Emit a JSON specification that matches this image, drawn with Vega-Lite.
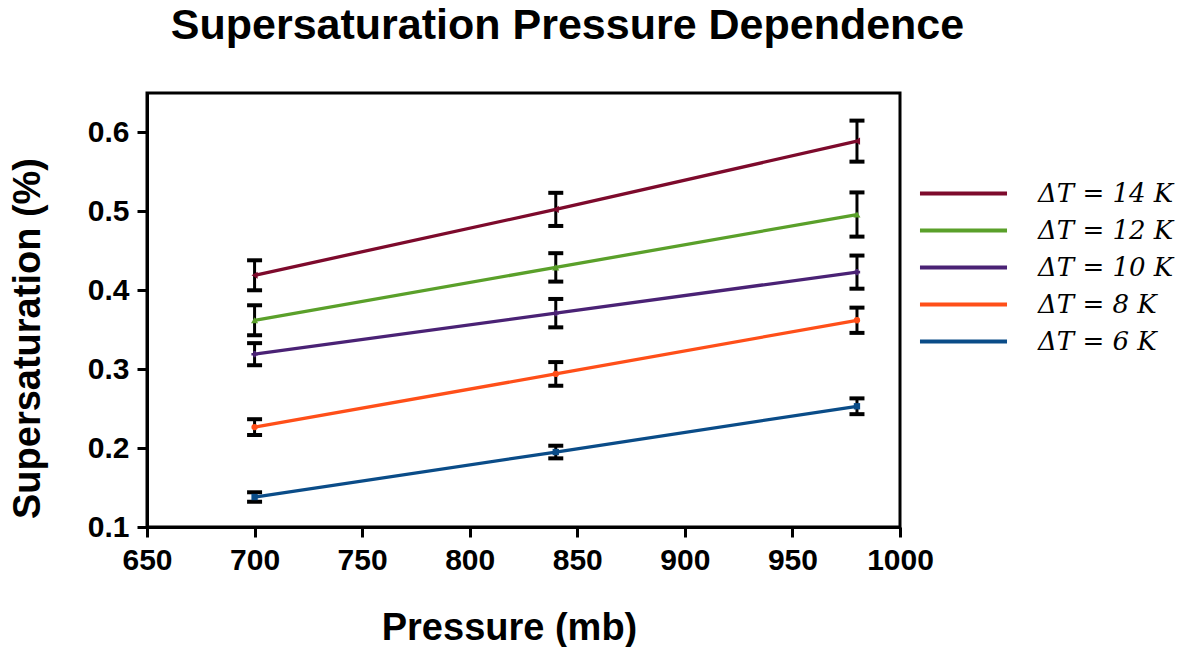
{
  "$schema": "https://vega.github.io/schema/vega-lite/v6.json",
  "autosize": {"type": "none"},
  "padding": {"left": 147, "top": 93, "right": 285, "bottom": 120},
  "width": 753,
  "height": 434,
  "background": "white",
  "title": {
    "text": "Supersaturation Pressure Dependence",
    "font": "Liberation Sans",
    "fontSize": 43,
    "fontWeight": "bold",
    "color": "black",
    "anchor": "middle",
    "frame": "group",
    "dx": 44,
    "offset": 45
  },
  "config": {
    "view": {"stroke": "black", "strokeWidth": 3},
    "axis": {
      "domainColor": "black",
      "domainWidth": 3,
      "tickColor": "black",
      "tickWidth": 3,
      "tickSize": 10,
      "grid": false,
      "labelFlush": false,
      "labelFont": "Liberation Sans",
      "labelFontWeight": "bold",
      "labelFontSize": 30,
      "labelColor": "black",
      "titleFont": "Liberation Sans",
      "titleFontWeight": "bold",
      "titleFontSize": 38,
      "titleColor": "black"
    },
    "legend": {
      "labelFont": "DejaVu Serif",
      "labelFontStyle": "italic",
      "labelFontSize": 26,
      "labelColor": "black",
      "symbolType": "M-4.5,0H4.5",
      "symbolSize": 374,
      "symbolStrokeWidth": 4,
      "labelOffset": 61.5,
      "rowPadding": 11,
      "padding": 0,
      "titleOpacity": 0
    }
  },
  "data": {
    "values": [
      {"dt": "ΔT = 14 K", "p": 700, "s": 0.419, "err": 0.019},
      {"dt": "ΔT = 14 K", "p": 840, "s": 0.5025, "err": 0.021},
      {"dt": "ΔT = 14 K", "p": 980, "s": 0.589, "err": 0.026},
      {"dt": "ΔT = 12 K", "p": 700, "s": 0.362, "err": 0.019},
      {"dt": "ΔT = 12 K", "p": 840, "s": 0.429, "err": 0.018},
      {"dt": "ΔT = 12 K", "p": 980, "s": 0.496, "err": 0.028},
      {"dt": "ΔT = 10 K", "p": 700, "s": 0.319, "err": 0.014},
      {"dt": "ΔT = 10 K", "p": 840, "s": 0.371, "err": 0.018},
      {"dt": "ΔT = 10 K", "p": 980, "s": 0.423, "err": 0.021},
      {"dt": "ΔT = 8 K", "p": 700, "s": 0.2266, "err": 0.01},
      {"dt": "ΔT = 8 K", "p": 840, "s": 0.294, "err": 0.015},
      {"dt": "ΔT = 8 K", "p": 980, "s": 0.362, "err": 0.016},
      {"dt": "ΔT = 6 K", "p": 700, "s": 0.138, "err": 0.006},
      {"dt": "ΔT = 6 K", "p": 840, "s": 0.195, "err": 0.008},
      {"dt": "ΔT = 6 K", "p": 980, "s": 0.253, "err": 0.01}
    ]
  },
  "encoding": {
    "x": {
      "field": "p", "type": "quantitative",
      "scale": {"domain": [650, 1000], "nice": false, "zero": false},
      "axis": {"values": [650, 700, 750, 800, 850, 900, 950, 1000], "format": "d", "labelPadding": 8, "title": "Pressure (mb)", "titleX": 362, "titleY": 101, "titleBaseline": "middle"}
    },
    "y": {
      "field": "s", "type": "quantitative",
      "scale": {"domain": [0.1, 0.65], "nice": false, "zero": false},
      "axis": {"values": [0.1, 0.2, 0.3, 0.4, 0.5, 0.6], "format": ".1f", "labelPadding": 8, "title": "Supersaturation (%)", "titleX": -119, "titleY": 245, "titleBaseline": "middle", "titleAlign": "center", "titleAngle": -90}
    }
  },
  "layer": [
    {
      "mark": {"type": "errorbar", "color": "black", "opacity": 1, "thickness": 3, "ticks": {"size": 15, "thickness": 4, "color": "black", "opacity": 1}},
      "encoding": {
        "yError": {"field": "err"}
      }
    },
    {
      "mark": {"type": "line", "strokeWidth": 3.3},
      "encoding": {
        "color": {
          "field": "dt", "type": "nominal",
          "scale": {
            "domain": ["ΔT = 14 K", "ΔT = 12 K", "ΔT = 10 K", "ΔT = 8 K", "ΔT = 6 K"],
            "range": ["#7d0a2c", "#5aa02a", "#4a2275", "#ff4f19", "#0a4c88"]
          },
          "legend": {"orient": "none", "legendX": 803.5, "legendY": 87.5, "title": null}
        }
      }
    },
    {
      "transform": [{"filter": "datum.dt === 'ΔT = 14 K'"}],
      "mark": {"type": "point", "filled": true, "size": 50, "opacity": 1, "shape": "triangle-left", "color": "#7d0a2c"}
    },
    {
      "transform": [{"filter": "datum.dt === 'ΔT = 12 K'"}],
      "mark": {"type": "point", "filled": true, "size": 50, "opacity": 1, "shape": "triangle-up", "color": "#5aa02a"}
    },
    {
      "transform": [{"filter": "datum.dt === 'ΔT = 10 K'"}],
      "mark": {"type": "point", "filled": true, "size": 40, "opacity": 1, "shape": "cross", "color": "#4a2275"}
    },
    {
      "transform": [{"filter": "datum.dt === 'ΔT = 8 K'"}],
      "mark": {"type": "point", "filled": true, "size": 40, "opacity": 1, "shape": "circle", "color": "#ff4f19"}
    },
    {
      "transform": [{"filter": "datum.dt === 'ΔT = 6 K'"}],
      "mark": {"type": "point", "filled": true, "size": 40, "opacity": 1, "shape": "square", "color": "#0a4c88"}
    }
  ]
}
